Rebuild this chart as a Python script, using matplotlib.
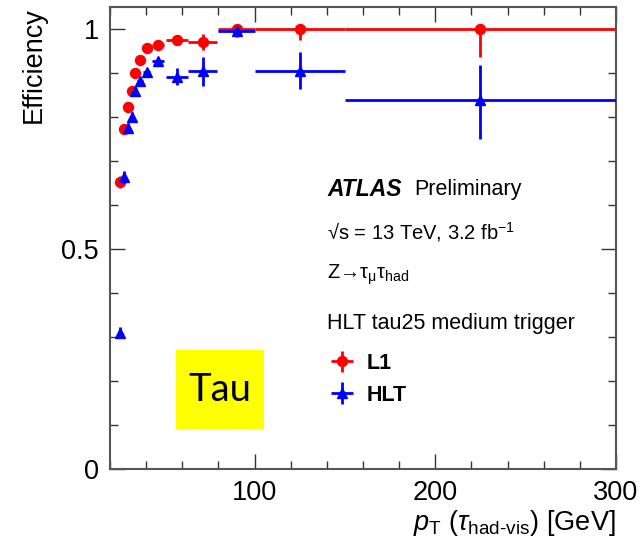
import matplotlib
matplotlib.use("Agg")
import matplotlib.pyplot as plt
from matplotlib.patches import Rectangle
from matplotlib.ticker import MultipleLocator

plt.rcParams['font.family'] = ['Liberation Sans', 'DejaVu Sans']
plt.rcParams['mathtext.fontset'] = 'custom'
plt.rcParams['mathtext.rm'] = 'Liberation Sans'
plt.rcParams['mathtext.it'] = 'Liberation Sans:italic'
plt.rcParams['mathtext.bf'] = 'Liberation Sans:bold'

# tau pT bins (centre, half width) in GeV
pt = [25.5, 27.8, 30.0, 32.0, 34.0, 36.6, 40.2, 46.7, 57.0, 71.2, 90.0, 125.0, 225.0]
pt_err = [0.8, 1.0, 1.0, 1.0, 1.0, 1.4, 2.0, 3.4, 6.2, 7.9, 10.0, 25.0, 75.0]

# L1 efficiency
l1_eff = [0.652, 0.772, 0.823, 0.860, 0.901, 0.929, 0.956, 0.964, 0.976, 0.970, 0.999, 0.999, 1.000]
l1_lo = [0.014, 0.011, 0.009, 0.008, 0.007, 0.006, 0.005, 0.005, 0.005, 0.018, 0.004, 0.023, 0.064]
l1_hi = [0.014, 0.011, 0.009, 0.008, 0.007, 0.006, 0.005, 0.005, 0.005, 0.018, 0.001, 0.001, 0.000]

# HLT efficiency
hlt_eff = [0.310, 0.664, 0.776, 0.801, 0.860, 0.882, 0.902, 0.927, 0.892, 0.904, 0.996, 0.905, 0.838]
hlt_lo = [0.012, 0.014, 0.011, 0.010, 0.009, 0.008, 0.007, 0.006, 0.019, 0.033, 0.014, 0.042, 0.087]
hlt_hi = [0.012, 0.014, 0.011, 0.010, 0.009, 0.008, 0.007, 0.006, 0.019, 0.033, 0.004, 0.042, 0.080]

W, H = 643, 554
fig = plt.figure(figsize=(W / 100, H / 100), dpi=100)
ax = fig.add_axes([110 / W, 1 - 469 / H, 506 / W, 462 / H])

ax.errorbar(pt, l1_eff, xerr=pt_err, yerr=[l1_lo, l1_hi], fmt='o', color='#ff0000',
            ms=7.2, elinewidth=2, capsize=0, label='L1', zorder=3)
ax.errorbar(pt, hlt_eff, xerr=pt_err, yerr=[hlt_lo, hlt_hi], fmt='^', color='#0000ff',
            ms=7.2, elinewidth=2, capsize=0, label='HLT', zorder=4)

ax.set_xlim(20, 300)
ax.set_ylim(0, 1.05)
ax.xaxis.set_major_locator(MultipleLocator(100))
ax.xaxis.set_minor_locator(MultipleLocator(20))
ax.yaxis.set_major_locator(MultipleLocator(0.5))
ax.yaxis.set_minor_locator(MultipleLocator(0.1))
ax.set_yticks([0, 0.5, 1])
ax.set_yticklabels(['0', '0.5', '1'])

for sp in ax.spines.values():
    sp.set_color('#555555')
    sp.set_linewidth(1.5)
ax.tick_params(which='both', direction='in', top=True, right=True, color='#333333', width=1.0)
ax.tick_params(which='major', length=11, labelsize=19.5, pad=8)
ax.tick_params(which='minor', length=6)

ax.set_xlabel(r'$p_{\mathrm{T}}$ ($\tau_{\text{had-vis}}$) [GeV]', fontsize=19.5, loc='right')
ax.xaxis.set_label_coords(1.0, -0.085)
ax.set_ylabel('Efficiency', fontsize=19.5, loc='top')
ax.yaxis.set_label_coords(-0.125, 1.0)

def px(x, y):
    return x / W, 1 - y / H

fs = 15.5
fig.text(*px(327, 190), 'ATLAS', fontsize=16.5, fontweight='bold', style='italic', va='center')
fig.text(*px(414, 190), 'Preliminary', fontsize=fs, va='center')
fig.text(*px(327, 232), '√s = 13 TeV, 3.2 fb$^{-1}$', fontsize=fs - 1, va='center')
fig.text(*px(327, 275), r'Z→τ$_{\mathrm{\mu}}$τ$_{\mathrm{had}}$', fontsize=fs - 1, va='center')
fig.text(*px(327, 323), 'HLT tau25 medium trigger', fontsize=fs, va='center')

leg = ax.legend(loc='upper left', bbox_to_anchor=px(325, 353), bbox_transform=fig.transFigure,
                frameon=False, fontsize=fs, handlelength=1.6, handletextpad=0.35,
                labelspacing=0.5, borderpad=0, borderaxespad=0)
for t in leg.get_texts():
    t.set_fontweight('bold')

# yellow label box
box = Rectangle(((176 - 110) / 506, (469 - 429) / 462), 88 / 506, 79 / 462,
                transform=ax.transAxes, facecolor='#ffff00', edgecolor='none', zorder=5)
ax.add_patch(box)
ax.text((220 - 110) / 506, (469 - 390) / 462, 'Tau', transform=ax.transAxes, fontsize=27.5,
        family='Lato', ha='center', va='center', zorder=6)

fig.savefig('out.png', dpi=100)
